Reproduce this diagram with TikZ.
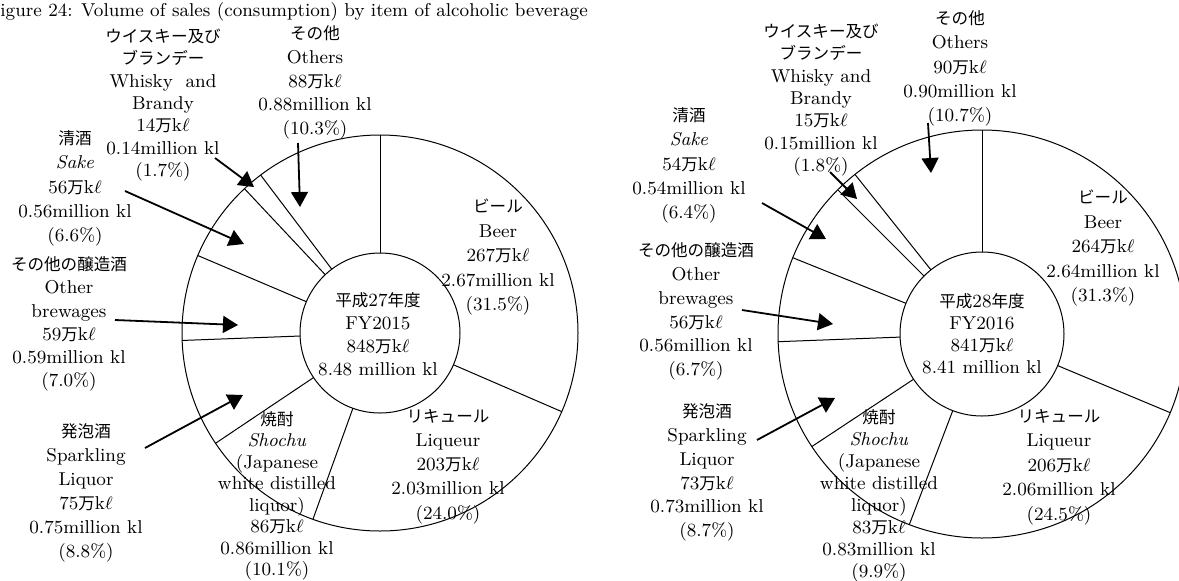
\documentclass[tikz,border=0pt]{standalone}
\usepackage{fontspec}
\newfontfamily\jp{Noto Sans CJK JP}[Scale=0.89]
\usetikzlibrary{arrows.meta}
\newcommand{\mkl}{{\jp 万}k$\ell$}

\begin{document}
\begin{tikzpicture}[x=0.5pt, y=-0.5pt,
        lbl/.style={align=center, inner sep=0pt, font=\fontsize{9.3}{#1}\selectfont},
        lbl/.default=12pt,
        ring/.style={line width=0.5pt},
        callout/.style={line width=0.9pt, -{Triangle[length=7.5pt,width=8.5pt]}}]
        \useasboundingbox (0,0) rectangle (1179,580);
        \node[lbl, anchor=west] (title) at (0,12) {igure 24: Volume of sales (consumption) by item of alcoholic beverage};

        % FY2015
        \coordinate (cL) at (380,333);
        \draw[ring] (cL) circle (198);
        \draw[ring] (cL) circle (80);
        \foreach \a in {90,127.08,133.2,156.96,182.16,213.84,250.2,336.6}
            \draw[ring, shift={(cL)}] (-\a:80) -- (-\a:198);

        \node[lbl=11.5pt] (ctrL) at (378,334.5) {{\jp 平成}27{\jp 年度}\\FY2015\\848\mkl\\8.48 million kl};
        \node[lbl=12.25pt] (beerL) at (498,257) {{\jp ビール}\\Beer\\267\mkl\\2.67million kl\\(31.5\%)};
        \node[lbl=12.1pt] (liqL) at (448,466.5) {{\jp リキュール}\\Liqueur\\203\mkl\\2.03million kl\\(24.0\%)};
        \node[lbl=10.75pt] (shoL) at (277,496) {{\jp 焼酎}\\\textit{Shochu}\\(Japanese\\white distilled\\liquor)\\86\mkl\\0.86million kl\\(10.1\%)};
        \node[lbl=12pt] (spkL) at (86,493) {{\jp 発泡酒}\\Sparkling\\Liquor\\75\mkl\\0.75million kl\\(8.8\%)};
        \node[lbl=11.6pt] (brwL) at (69,324) {{\jp その他の醸造酒}\\Other\\brewages\\59\mkl\\0.59million kl\\(7.0\%)};
        \node[lbl=12.1pt] (sakL) at (75,188.5) {{\jp 清酒}\\\textit{Sake}\\56\mkl\\0.56million kl\\(6.6\%)};
        \node[lbl=11.15pt] (wskL) at (163,105) {{\jp ウイスキー及び}\\{\jp ブランデー}\\Whisky~~and\\Brandy\\14\mkl\\0.14million kl\\(1.7\%)};
        \node[lbl=11.9pt] (othL) at (315,82.5) {{\jp その他}\\Others\\88\mkl\\0.88million kl\\(10.3\%)};

        \coordinate (othLs) at (298,143);
        \coordinate (othLt) at (300,207);
        \coordinate (wskLs) at (215,158);
        \coordinate (wskLt) at (254,187);
        \coordinate (sakLs) at (125,191);
        \coordinate (sakLt) at (244,244);
        \coordinate (brwLs) at (115,320);
        \coordinate (brwLt) at (238,325);
        \coordinate (spkLs) at (145,448);
        \coordinate (spkLt) at (243,395);
        \draw[callout] (othLs) -- (othLt);
        \draw[callout] (wskLs) -- (wskLt);
        \draw[callout] (sakLs) -- (sakLt);
        \draw[callout] (brwLs) -- (brwLt);
        \draw[callout] (spkLs) -- (spkLt);

        % FY2016
        \coordinate (cR) at (982,334);
        \draw[ring] (cR) circle (204);
        \draw[ring] (cR) circle (82);
        \foreach \a in {90,128.52,135,158.04,182.16,213.48,249.12,337.32}
            \draw[ring, shift={(cR)}] (-\a:82) -- (-\a:204);

        \node[lbl=11pt] (ctrR) at (982,334) {{\jp 平成}28{\jp 年度}\\FY2016\\841\mkl\\8.41 million kl};
        \node[lbl=12.25pt] (beerR) at (1103,248) {{\jp ビール}\\Beer\\264\mkl\\2.64million kl\\(31.3\%)};
        \node[lbl=12.25pt] (liqR) at (1059,467) {{\jp リキュール}\\Liqueur\\206\mkl\\2.06million kl\\(24.5\%)};
        \node[lbl=11pt] (shoR) at (879,496) {{\jp 焼酎}\\\textit{Shochu}\\(Japanese\\white distilled\\liquor)\\83\mkl\\0.83million kl\\(9.9\%)};
        \node[lbl=11.9pt] (spkR) at (707,472.5) {{\jp 発泡酒}\\Sparkling\\Liquor\\73\mkl\\0.73million kl\\(8.7\%)};
        \node[lbl=11.9pt] (brwR) at (696,311.5) {{\jp その他の醸造酒}\\Other\\brewages\\56\mkl\\0.56million kl\\(6.7\%)};
        \node[lbl=12.1pt] (sakR) at (689,165.5) {{\jp 清酒}\\\textit{Sake}\\54\mkl\\0.54million kl\\(6.4\%)};
        \node[lbl=11.2pt] (wskR) at (821,100) {{\jp ウイスキー及び}\\{\jp ブランデー}\\Whisky and\\Brandy\\15\mkl\\0.15million kl\\(1.8\%)};
        \node[lbl=12.1pt] (othR) at (960,68.5) {{\jp その他}\\Others\\90\mkl\\0.90million kl\\(10.7\%)};

        \coordinate (othRs) at (928,123);
        \coordinate (othRt) at (931,173);
        \coordinate (wskRs) at (830,172);
        \coordinate (wskRt) at (857,199);
        \coordinate (sakRs) at (762,203);
        \coordinate (sakRt) at (826,239);
        \coordinate (brwRs) at (742,310);
        \coordinate (brwRt) at (833,324);
        \coordinate (spkRs) at (757,440);
        \coordinate (spkRt) at (835,398);
        \draw[callout] (othRs) -- (othRt);
        \draw[callout] (wskRs) -- (wskRt);
        \draw[callout] (sakRs) -- (sakRt);
        \draw[callout] (brwRs) -- (brwRt);
        \draw[callout] (spkRs) -- (spkRt);
    \end{tikzpicture}
\end{document}
